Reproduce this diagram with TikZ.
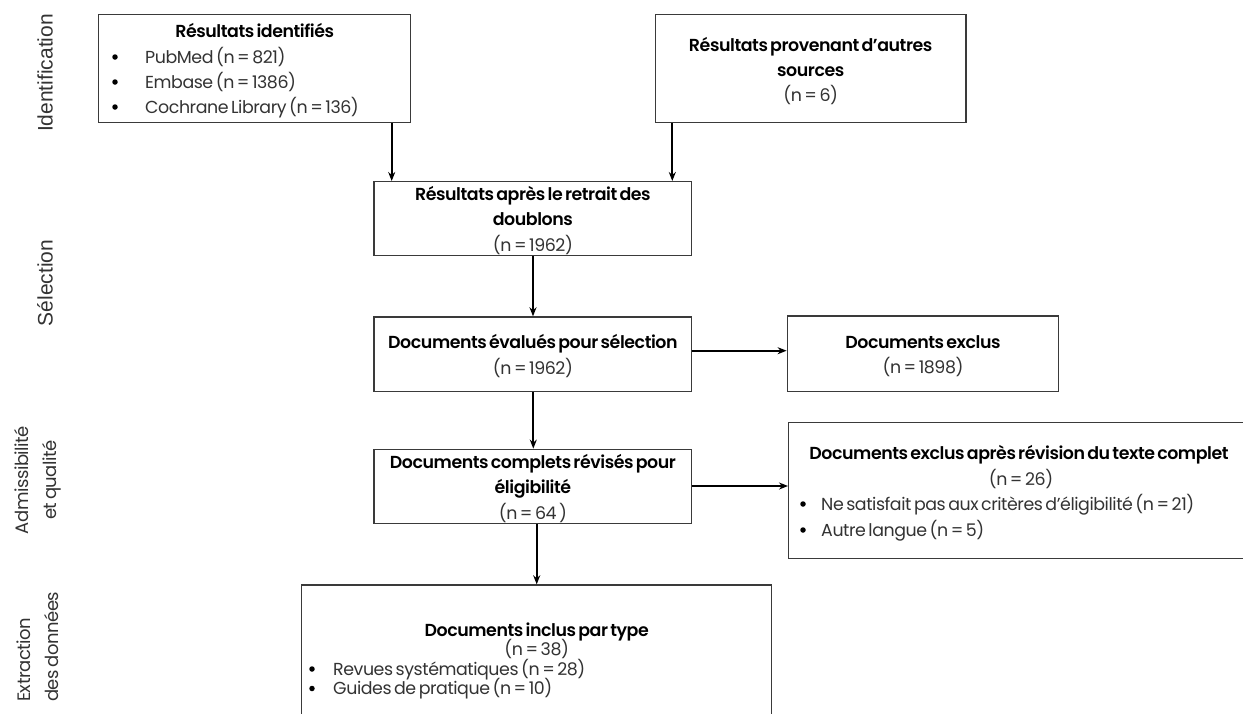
\documentclass[tikz,border=0pt]{standalone}
\usepackage{fontspec}
\setmainfont{Poppins}[LetterSpace=-2.5, WordSpace=0.6, BoldFont={Poppins SemiBold}]
\newfontfamily\lblfont{Liberation Sans}
\usetikzlibrary{arrows.meta,fit}
\definecolor{bordergray}{HTML}{3A3A3A}
\definecolor{txtgray}{HTML}{333333}
\begin{document}
\begin{tikzpicture}[x=1pt,y=-1pt,
  box/.style={draw=bordergray, line width=1.4pt, inner sep=0pt, fill=none},
  bt/.style={inner sep=0pt, anchor=base, font=\fontsize{17.4}{20}\selectfont\bfseries, text=black},
  rt/.style={inner sep=0pt, anchor=base, font=\fontsize{17.4}{20}\selectfont, text=txtgray},
  rl/.style={inner sep=0pt, anchor=base west, font=\fontsize{17.4}{20}\selectfont, text=txtgray},
  dot/.style={circle, fill=black, inner sep=0pt, minimum size=5.5pt},
  arr/.style={draw=black, line width=1.8pt, -{Stealth[length=9pt,width=7pt]}},
  side/.style={inner sep=0pt, rotate=90, text=txtgray},
]
\useasboundingbox (0,0) rectangle (1243,713);
\fill[white] (0,0) rectangle (1243,713);

% boxes
\node[box, fit={(98.7,14.7) (410.7,122.7)}] (b1) {};
\node[box, fit={(655.3,14.7) (966,122.7)}] (b2) {};
\node[box, fit={(374,181.7) (691.7,255.7)}] (b3) {};
\node[box, fit={(374,317) (691.7,391.3)}] (b4) {};
\node[box, fit={(787.3,316) (1058.7,391.7)}] (b5) {};
\node[box, fit={(374,449.3) (691.7,523.3)}] (b6) {};
\node[box, fit={(788.7,422.7) (1252,558.3)}] (b7) {};
\node[box, fit={(301.7,585) (771.7,722)}] (b8) {};

% side labels
\node[side, font=\lblfont\fontsize{21}{24}\selectfont] (lid) at (45,73) {Identification};
\node[side, font=\lblfont\fontsize{21}{24}\selectfont] (lsel) at (45,283) {Sélection};
\node[side, align=center, font=\fontsize{18}{28}\selectfont] (ladm) at (37.5,480) {Admissibilité\\et qualité};
\node[side, align=left, anchor=west, font=\fontsize{18}{28}\selectfont] (lext) at (37.5,702) {Extraction\\des données};

% b1
\node[bt] (b1t) at (254.7,37.7) {Résultats identifiés};
\node[dot] (b1d1) at (115,57) {};
\node[dot] (b1d2) at (115,82) {};
\node[dot] (b1d3) at (115,107) {};
\node[rl] (b1l1) at (145,63.3) {PubMed (n = 821)};
\node[rl] (b1l2) at (145,88.3) {Embase (n = 1386)};
\node[rl] (b1l3) at (145,113.3) {Cochrane Library (n = 136)};

% b2
\node[bt] (b2t1) at (810.7,51.7) {Résultats provenant d’autres};
\node[bt] (b2t2) at (810.7,76.5) {sources};
\node[rt] (b2n) at (810.7,101.5) {(n = 6)};

% b3
\node[bt] (b3t1) at (532.9,200.7) {Résultats après le retrait des};
\node[bt] (b3t2) at (532.9,225.5) {doublons};
\node[rt] (b3n) at (532.9,251) {(n = 1962)};

% b4
\node[bt] (b4t) at (532.9,348.3) {Documents évalués pour sélection};
\node[rt] (b4n) at (532.9,374) {(n = 1962)};

% b5
\node[bt] (b5t) at (923,348.3) {Documents exclus};
\node[rt] (b5n) at (923,373.3) {(n = 1898)};

% b6
\node[bt] (b6t1) at (532.9,468.3) {Documents complets révisés pour};
\node[bt] (b6t2) at (532.9,493.3) {éligibilité};
\node[rt] (b6n) at (532.9,519.3) {(n = 64 )};

% b7
\node[bt] (b7t) at (1019,459.3) {Documents exclus après révision du texte complet};
\node[rt] (b7n) at (1021,485) {(n = 26)};
\node[dot] (b7d1) at (803,504) {};
\node[dot] (b7d2) at (803,530) {};
\node[rl] (b7l1) at (821,510) {Ne satisfait pas aux critères d’éligibilité (n = 21)};
\node[rl] (b7l2) at (821,536) {Autre langue (n = 5)};

% b8
\node[bt] (b8t) at (536.7,636) {Documents inclus par type};
\node[rt] (b8n) at (536.7,655.5) {(n = 38)};
\node[dot] (b8d1) at (312,669) {};
\node[dot] (b8d2) at (312,688.5) {};
\node[rl] (b8l1) at (333,675) {Revues systématiques (n = 28)};
\node[rl] (b8l2) at (333,694.5) {Guides de pratique (n = 10)};

% connectors
\coordinate (xa) at (391.7,0);
\coordinate (xb) at (672.3,0);
\coordinate (xc) at (533,0);
\coordinate (xd) at (533.3,0);
\coordinate (xe) at (536.7,0);
\coordinate (ya) at (0,350.7);
\coordinate (yb) at (0,486);
\draw[arr] (b1.south -| xa) -- (b3.north -| xa);
\draw[arr] (b2.south -| xb) -- (b3.north -| xb);
\draw[arr] (b3.south -| xc) -- (b4.north -| xc);
\draw[arr] (b4.east |- ya) -- (b5.west |- ya);
\draw[arr] (b4.south -| xd) -- (b6.north -| xd);
\draw[arr] (b6.east |- yb) -- (b7.west |- yb);
\draw[arr] (b6.south -| xe) -- (b8.north -| xe);
\end{tikzpicture}
\end{document}
